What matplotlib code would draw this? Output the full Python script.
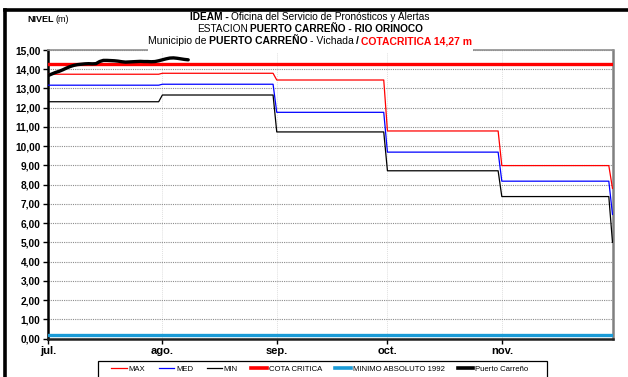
import numpy as np
import matplotlib
matplotlib.use("Agg")
import matplotlib.pyplot as plt
from matplotlib.lines import Line2D
from matplotlib.patches import Rectangle
from matplotlib.ticker import FuncFormatter

plt.rcParams['font.family'] = ['Liberation Sans Narrow', 'Liberation Sans', 'DejaVu Sans']

# dias desde el 1 de julio; el ultimo es el 1 de diciembre
meses = ['jul.', 'ago.', 'sep.', 'oct.', 'nov.']
inicio_mes = [0, 31, 62, 92, 123, 153]

# niveles historicos por mes (m)
nivel_max = [13.74, 13.79, 13.44, 10.79, 8.99]
nivel_med = [13.17, 13.22, 11.76, 9.69, 8.18]
nivel_min = [12.31, 12.66, 10.74, 8.72, 7.38]
fin_max, fin_med, fin_min = 7.80, 6.45, 5.00

cota_critica = 14.27
minimo_1992 = 0.20

# nivel diario observado en Puerto Carreño desde el 1 jul
carreno = [13.67, 13.75, 13.83, 13.89, 13.97, 14.06, 14.14, 14.20, 14.24, 14.26,
           14.28, 14.29, 14.28, 14.29, 14.40, 14.46, 14.46, 14.45, 14.44, 14.42,
           14.39, 14.37, 14.38, 14.39, 14.40, 14.41, 14.40, 14.40, 14.39, 14.40,
           14.44, 14.49, 14.54, 14.58, 14.59, 14.57, 14.54, 14.51, 14.49]

W, H = 628, 377


def escalones(vals, fin):
    x, y = [], []
    for i, v in enumerate(vals):
        x += [inicio_mes[i], inicio_mes[i + 1] - 1]
        y += [v, v]
    x.append(inicio_mes[-1])
    y.append(fin)
    return x, y


fig = plt.figure(figsize=(W / 100, H / 100), dpi=100)
ax = fig.add_axes([48 / W, 38.5 / H, (612.5 - 48) / W, (338.5 - 50) / H])

x, y = escalones(nivel_max, fin_max)
ax.plot(x, y, color='#ff0000', lw=0.9, zorder=3)
x, y = escalones(nivel_med, fin_med)
ax.plot(x, y, color='#0000ff', lw=0.9, zorder=3)
x, y = escalones(nivel_min, fin_min)
ax.plot(x, y, color='black', lw=0.9, zorder=3)
ax.axhline(cota_critica, color='#ff0000', lw=2.4, zorder=4)
ax.axhline(minimo_1992, color='#1a9bd7', lw=2.4, zorder=4)
ax.plot(np.arange(len(carreno)), carreno, color='black', lw=2.4, zorder=5,
        solid_capstyle='round')

ax.set_xlim(0, inicio_mes[-1])
ax.set_ylim(0, 15)
ax.set_yticks(np.arange(0, 16, 1))
ax.yaxis.set_major_formatter(FuncFormatter(lambda v, p: f'{v:.2f}'.replace('.', ',')))
ax.set_xticks(inicio_mes[:-1])
ax.set_xticklabels(meses)
ax.tick_params(axis='both', direction='out', length=3.5, width=1, color='black')
ax.tick_params(axis='y', pad=2, labelsize=7.3)
ax.tick_params(axis='x', pad=2, labelsize=8)
for lab in ax.get_xticklabels() + ax.get_yticklabels():
    lab.set_fontweight('bold')

ax.grid(axis='y', color='#8c8c8c', ls=(0, (1, 1)), lw=0.8)
ax.grid(axis='x', color='#e0e0e0', ls=(0, (1, 1)), lw=0.7)
ax.set_axisbelow(True)

ax.spines['left'].set_linewidth(1.8)
ax.spines['bottom'].set_linewidth(1.8)
ax.spines['left'].set_color('black')
ax.spines['bottom'].set_color('#202020')
ax.spines['right'].set_linewidth(1.8)
ax.spines['right'].set_color('#808080')
ax.spines['top'].set_linewidth(1.2)
ax.spines['top'].set_color('#909090')

# marco exterior (arriba e izquierda)
fig.add_artist(Line2D([5 / W, 1], [1 - 10 / H] * 2, transform=fig.transFigure,
                      color='black', lw=2.6))
fig.add_artist(Line2D([5 / W] * 2, [0, 1 - 10 / H], transform=fig.transFigure,
                      color='black', lw=2.6))

# fondo blanco del titulo sobre el borde superior
fig.add_artist(Rectangle((148 / W, 1 - 53 / H), (473 - 148) / W, 18 / H,
                         transform=fig.transFigure, facecolor='white',
                         edgecolor='none', zorder=2))

renderer = fig.canvas.get_renderer()


def linea(y, partes, cx=None, x0=None, size=7.5):
    textos, anchos, huecos = [], [], []
    for s, peso, color in partes:
        hueco = 2.2 if s.startswith(' ') else 0
        t = fig.text(0, 1 - y / H, s.strip(), fontsize=size, fontweight=peso,
                     color=color, va='center', ha='left', zorder=6)
        textos.append(t)
        anchos.append(t.get_window_extent(renderer).width)
        huecos.append(hueco)
    total = sum(anchos) + sum(huecos)
    pos = cx - total / 2 if cx is not None else x0
    for t, w, h in zip(textos, anchos, huecos):
        pos += h
        t.set_x(pos / W)
        pos += w


linea(17, [('IDEAM -', 'bold', 'black'),
           (' Oficina del Servicio de Pronósticos y Alertas', 'normal', 'black')],
      cx=310, size=7.3)
linea(29, [('ESTACION', 'normal', 'black'),
           (' PUERTO CARREÑO - RIO ORINOCO', 'bold', 'black')], cx=310, size=7.3)
linea(41, [('Municipio de', 'normal', 'black'),
           (' PUERTO CARREÑO', 'bold', 'black'),
           (' - Vichada', 'normal', 'black'),
           (' /', 'bold', 'black'),
           (' COTACRITICA 14,27 m', 'bold', '#ff0000')], cx=310)
linea(19, [('NIVEL', 'bold', 'black'), (' (m)', 'normal', 'black')], x0=27, size=6.5)

handles = [Line2D([], [], color='#ff0000', lw=0.9),
           Line2D([], [], color='#0000ff', lw=0.9),
           Line2D([], [], color='black', lw=0.9),
           Line2D([], [], color='#ff0000', lw=2.6),
           Line2D([], [], color='#1a9bd7', lw=2.6),
           Line2D([], [], color='black', lw=2.6)]
etiquetas = ['MAX', 'MED', 'MIN', 'COTA CRITICA', 'MINIMO ABSOLUTO 1992', 'Puerto Carreño']
leg = fig.legend(handles, etiquetas, loc='center', bbox_to_anchor=(320 / W, 1 - 369 / H),
                 ncol=6, fontsize=5.6, frameon=False,
                 handlelength=1.95, handletextpad=0.25, columnspacing=1.75,
                 borderpad=0, borderaxespad=0)

# caja de la leyenda, cortada por el borde inferior
fig.add_artist(Rectangle((98 / W, -5 / H), (547 - 98) / W, (377 - 361 + 5) / H,
                         transform=fig.transFigure, facecolor='none',
                         edgecolor='black', lw=0.9))

fig.savefig('out.png', dpi=100, facecolor='white')
